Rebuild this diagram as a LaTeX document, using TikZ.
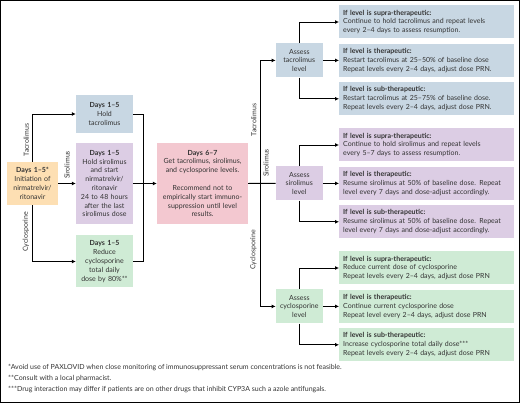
\documentclass[tikz,border=0pt]{standalone}
\usepackage{fontspec}
\setmainfont{Lato}
\usepackage{tikz}
\usetikzlibrary{arrows.meta,positioning}

\definecolor{peach}{HTML}{FDDFB3}
\definecolor{tacblue}{HTML}{C8D7E3}
\definecolor{sirlilac}{HTML}{DCCDE4}
\definecolor{cycgreen}{HTML}{CFEBD5}
\definecolor{levelpink}{HTML}{F3C8D0}
\definecolor{inkgray}{HTML}{333333}

\begin{document}
\begin{tikzpicture}[
    x=1pt, y=-1pt,
    every node/.style={text=inkgray, font=\fontsize{7}{8.8}\selectfont},
    daybox/.style={rectangle, inner sep=1pt, text width=55pt, align=center},
    assessbox/.style={rectangle, inner sep=1pt, minimum height=34pt, text width=45pt, align=center},
    rulebox/.style={rectangle, inner xsep=4pt, inner ysep=2pt, minimum height=33pt, text width=167pt, align=left},
    drug/.style={rotate=90},
    arrow/.style={-{Latex[length=4pt,width=4pt]}, line width=0.9pt},
    link/.style={line width=0.9pt}
]
    \useasboundingbox (0,0) rectangle (520,403);
    \draw[line width=1.2pt] (0.6,0.6) rectangle (519.4,402.4);

    \node[daybox, fill=peach, text width=49pt, minimum height=43pt] (start) at (32.5,183.5) {\textbf{Days 1–5*}\\Initiation of\\nirmatrelvir/\\ritonavir};
    \node[daybox, fill=tacblue, minimum height=38pt] (holdtac) at (104.5,114) {\textbf{Days 1–5}\\Hold\\tacrolimus};
    \node[daybox, fill=sirlilac, minimum height=81pt] (holdsir) at (104.5,183.5) {\textbf{Days 1–5}\\Hold sirolimus\\and start\\nirmatrelvir/\\ritonavir\\24 to 48 hours\\after the last\\sirolimus dose};
    \node[daybox, fill=cycgreen, minimum height=52pt] (holdcyc) at (104.5,261.5) {\textbf{Days 1–5}\\Reduce\\cyclosporine\\total daily\\dose by 80\%**};
    \node[daybox, fill=levelpink, text width=89pt, minimum height=81pt] (levels) at (202.5,183.5) {\textbf{Days 6–7}\\Get tacrolimus, sirolimus,\\and cyclosporine levels.\\[8.8pt]Recommend not to\\empirically start immuno-\\suppression until level\\results.};

    \node[rulebox, fill=tacblue, anchor=west] (tacsupra) at (339,22) {\textbf{If level is supra-therapeutic:}\\Continue to hold tacrolimus and repeat levels\\every 2–4 days to assess resumption.};
    \node[rulebox, fill=tacblue, below=5pt of tacsupra] (tacther) {\textbf{If level is therapeutic:}\\Restart tacrolimus at 25–50\% of baseline dose\\Repeat levels every 2–4 days, adjust dose PRN.};
    \node[rulebox, fill=tacblue, below=5pt of tacther] (tacsub) {\textbf{If level is sub-therapeutic:}\\Restart tacrolimus at 25–75\% of baseline dose.\\Repeat levels every 2–4 days, adjust dose PRN.};

    \node[rulebox, fill=sirlilac, anchor=west] (sirsupra) at (339,145) {\textbf{If level is supra-therapeutic:}\\Continue to hold sirolimus and repeat levels\\every 5–7 days to assess resumption.};
    \node[rulebox, fill=sirlilac, below=5pt of sirsupra] (sirther) {\textbf{If level is therapeutic:}\\Resume sirolimus at 50\% of baseline dose. Repeat\\level every 7 days and dose-adjust accordingly.};
    \node[rulebox, fill=sirlilac, below=5pt of sirther] (sirsub) {\textbf{If level is sub-therapeutic:}\\Resume sirolimus at 50\% of baseline dose. Repeat\\level every 7 days and dose-adjust accordingly.};

    \node[rulebox, fill=cycgreen, anchor=west] (cycsupra) at (339,268) {\textbf{If level is supra-therapeutic:}\\Reduce current dose of cyclosporine\\Repeat levels every 2–4 days, adjust dose PRN};
    \node[rulebox, fill=cycgreen, below=5pt of cycsupra] (cycther) {\textbf{If level is therapeutic:}\\Continue current cyclosporine dose\\Repeat level every 2–4 days, adjust dose PRN};
    \node[rulebox, fill=cycgreen, below=5pt of cycther] (cycsub) {\textbf{If level is sub-therapeutic:}\\Increase cyclosporine total daily dose***\\Repeat levels every 2–4 days, adjust dose PRN};

    \node[assessbox, fill=tacblue, left=16pt of tacther] (tacassess) {Assess\\tacrolimus\\level};
    \node[assessbox, fill=sirlilac, left=16pt of sirther] (sirassess) {Assess\\sirolimus\\level};
    \node[assessbox, fill=cycgreen, left=16pt of cycther] (cycassess) {Assess\\cyclosporine\\level};

    \coordinate (merge) at (143,183.5);
    \coordinate (split) at (260,183.5);

    \draw[arrow] (start.north) |- (holdtac.west);
    \draw[arrow] (start) -- (holdsir);
    \draw[arrow] (start.south) |- (holdcyc.west);
    \draw[link] (holdtac.east) -| (merge |- holdcyc) -- (holdcyc.east);
    \draw[arrow] (holdsir) -- (levels);

    \draw[link] (split |- tacassess) -- (split |- cycassess);
    \draw[link] (levels) -- (sirassess);
    \draw[arrow] (split |- tacassess) -- (tacassess);
    \draw[arrow] (split |- cycassess) -- (cycassess);

    \foreach \g in {tac,sir,cyc} {
        \draw[arrow] (\g assess.north) |- (\g supra.west);
        \draw[arrow] (\g assess) -- (\g ther);
        \draw[arrow] (\g assess.south) |- (\g sub.west);
    }

    \node[drug, anchor=south] (lbltac) at (32.5,140) {Tacrolimus};
    \node[drug] (lblsir) at (67,165) {Sirolimus};
    \node[drug, anchor=south] (lblcyc) at (32.5,232) {Cyclosporine};
    \node[drug, anchor=south] (asktac) at (260,120) {Tacrolimus};
    \node[drug, anchor=north] (asksir) at (260,163) {Sirolimus};
    \node[drug, anchor=south] (askcyc) at (260,250) {Cyclosporine};

    \node[anchor=north west, align=left, inner sep=0pt, font=\fontsize{7}{11}\selectfont] (notes) at (8,364) {*Avoid use of PAXLOVID when close monitoring of immunosuppressant serum concentrations is not feasible.\\**Consult with a local pharmacist.\\***Drug interaction may differ if patients are on other drugs that inhibit CYP3A such a azole antifungals.};
\end{tikzpicture}
\end{document}
